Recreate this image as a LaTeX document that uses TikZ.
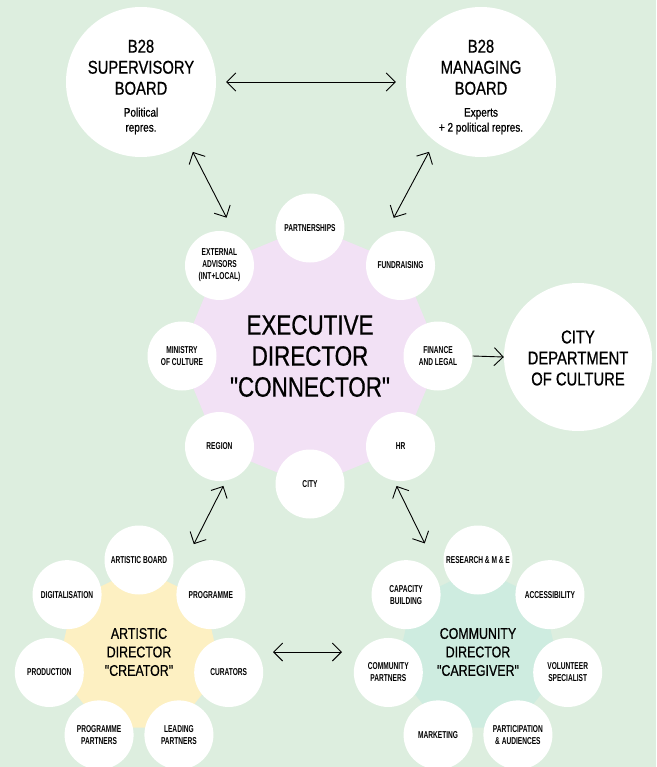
\documentclass[tikz,border=0pt]{standalone}
\usepackage{fontspec}
\setmainfont{Liberation Sans}[FakeStretch=0.8,FakeBold=0.7,Ligatures=TeXOff]
\newfontfamily\satfont{Liberation Sans}[FakeStretch=0.66,Ligatures=TeXOff]
\usetikzlibrary{arrows.meta,calc}
\definecolor{bg}{RGB}{221,238,223}
\definecolor{purp}{RGB}{242,225,245}
\definecolor{yell}{RGB}{253,240,194}
\definecolor{mint}{RGB}{206,236,224}
\newcommand\subtxt{\fontsize{12.5}{15}\selectfont}
\begin{document}
\begin{tikzpicture}[x=1pt,y=-1pt,
  sat/.style={circle,fill=white,minimum size=69pt,inner sep=0pt,align=center,font=\satfont\bfseries\fontsize{10}{12}\selectfont},
  big/.style={circle,fill=white,minimum size=150pt,inner sep=0pt},
  bigtext/.style={align=center,inner sep=0pt,font=\fontsize{18.5}{21}\selectfont},
  onearrow/.style={line width=0.9pt,-{Straight Barb[length=9pt,width=18pt]}},
  twoarrow/.style={line width=0.9pt,{Straight Barb[length=9pt,width=18pt]}-{Straight Barb[length=9pt,width=18pt]}}]
\fill[bg] (0,0) rectangle (656,767);
\useasboundingbox (0,0) rectangle (656,767);
\clip (0,0) rectangle (656,767);

\coordinate (ec) at (310,356);
\coordinate (ac) at (139,652);
\coordinate (cc) at (478,652);

% central polygons
\begin{scope}[shift={(ec)}]
\fill[purp] plot[samples at={0,...,7},variable=\k] ({90-\k*45}:130pt) -- cycle;
\end{scope}
\begin{scope}[shift={(ac)}]
\fill[yell] plot[samples at={0,...,6},variable=\k] ({90-\k*360/7}:84pt) -- cycle;
\end{scope}
\begin{scope}[shift={(cc)}]
\fill[mint] plot[samples at={0,...,6},variable=\k] ({90-\k*360/7}:84pt) -- cycle;
\end{scope}

% boards
\node[big] (sup) at (141,82) {};
\node[bigtext] (supt) at (141,87) {B28\\SUPERVISORY\\BOARD\\[1pt]\subtxt Political\\[-6pt]\subtxt repres.};
\node[big] (man) at (481,82) {};
\node[bigtext] (mant) at (481,87) {B28\\MANAGING\\BOARD\\[1pt]\subtxt Experts\\[-6pt]\subtxt + 2 political repres.};
\node[big,minimum size=148pt] (cdept) at (578,357) {};
\node[bigtext] (cdeptt) at (578,358) {CITY\\DEPARTMENT\\OF CULTURE};

% executive satellites
\path (ec) ++(90:128pt) node[sat] (part) {PARTNERSHIPS};
\path (ec) ++(45:128pt) node[sat] (fund) {FUNDRAISING};
\path (ec) ++(0:128pt) node[sat] (fin) {FINANCE\\AND LEGAL};
\path (ec) ++(-45:128pt) node[sat] (hr) {HR};
\path (ec) ++(-90:128pt) node[sat] (city) {CITY};
\path (ec) ++(-135:128pt) node[sat] (reg) {REGION};
\path (ec) ++(180:128pt) node[sat] (min) {MINISTRY\\OF CULTURE};
\path (ec) ++(135:128pt) node[sat] (ext) {EXTERNAL\\ADVISORS\\(INT+LOCAL)};

% artistic satellites
\path (ac) ++(90:92pt) node[sat] (artb) {ARTISTIC BOARD};
\path (ac) ++(38.57:92pt) node[sat] (prog) {PROGRAMME};
\path (ac) ++(-12.86:92pt) node[sat] (cur) {CURATORS};
\path (ac) ++(-64.29:92pt) node[sat] (lead) {LEADING\\PARTNERS};
\path (ac) ++(-115.71:92pt) node[sat] (ppart) {PROGRAMME\\PARTNERS};
\path (ac) ++(-167.14:92pt) node[sat] (prod) {PRODUCTION};
\path (ac) ++(141.43:92pt) node[sat] (dig) {DIGITALISATION};

% community satellites
\path (cc) ++(90:92pt) node[sat] (res) {RESEARCH \& M \& E};
\path (cc) ++(38.57:92pt) node[sat] (acc) {ACCESSIBILITY};
\path (cc) ++(-12.86:92pt) node[sat] (vol) {VOLUNTEER\\SPECIALIST};
\path (cc) ++(-64.29:92pt) node[sat] (parti) {PARTICIPATION\\\& AUDIENCES};
\path (cc) ++(-115.71:92pt) node[sat] (mark) {MARKETING};
\path (cc) ++(-167.14:92pt) node[sat] (cpart) {COMMUNITY\\PARTNERS};
\path (cc) ++(141.43:92pt) node[sat] (cap) {CAPACITY\\BUILDING};

% director texts
\node[align=center,inner sep=0pt,font=\fontsize{28}{31}\selectfont] (exect) at (ec) {EXECUTIVE\\DIRECTOR\\"CONNECTOR"};
\node[align=center,inner sep=0pt,font=\fontsize{15.5}{18.5}\selectfont] (artt) at (ac) {ARTISTIC\\DIRECTOR\\"CREATOR"};
\node[align=center,inner sep=0pt,font=\fontsize{15.5}{18.5}\selectfont] (commt) at (cc) {COMMUNITY\\DIRECTOR\\"CAREGIVER"};

% connectors
\draw[twoarrow,shorten <=10pt,shorten >=10pt] (sup.east) -- (man.west);
\draw[twoarrow,shorten <=12pt,shorten >=19pt] (sup.-52) -- (ext.63);
\draw[twoarrow,shorten <=12pt,shorten >=19pt] (man.-128) -- (fund.117);
\draw[twoarrow,shorten <=6pt,shorten >=121pt] (reg.-79) -- (ac);
\draw[twoarrow,shorten <=6pt,shorten >=121pt] (hr.-101) -- (cc);
\draw[twoarrow,shorten <=134pt,shorten >=136pt] (ac) -- (cc);
\draw[onearrow] (fin.east) -- (cdept.west);
\end{tikzpicture}
\end{document}
